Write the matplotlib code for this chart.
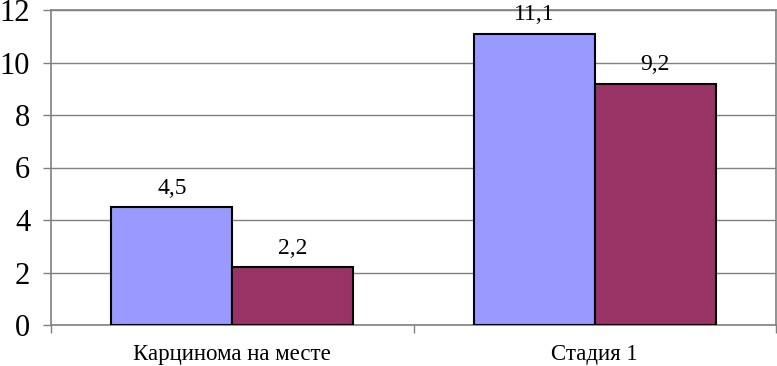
# Столбчатая диаграмма: карцинома на месте и стадия 1
import numpy as np
import matplotlib.pyplot as plt

plt.rcParams['font.family'] = ['Liberation Serif', 'DejaVu Serif']

categories = ['Карцинома на месте', 'Стадия 1']
series_a = [4.5, 11.1]
series_b = [2.2, 9.2]
yticks = [0, 2, 4, 6, 8, 10, 12]

W, H = 777, 366
fig = plt.figure(figsize=(W / 100, H / 100), dpi=100)
ax = fig.add_axes([51 / W, (H - 325) / H, (776 - 51) / W, (325 - 10) / H])

x = np.arange(len(categories))
ancho = 1 / 3
barras_a = ax.bar(x - ancho / 2, series_a, ancho, color='#9999FF', edgecolor='black', linewidth=1.5, zorder=3)
barras_b = ax.bar(x + ancho / 2, series_b, ancho, color='#993366', edgecolor='black', linewidth=1.5, zorder=3)

for barras in (barras_a, barras_b):
    for b in barras:
        v = b.get_height()
        ax.annotate(('%.1f' % v).replace('.', ','), (b.get_x() + b.get_width() / 2, v),
                    xytext=(0, 6), textcoords='offset points', ha='center', va='bottom',
                    fontsize=17, zorder=4)

ax.set_xlim(-0.5, 1.5)
ax.set_ylim(0, 12)
ax.set_yticks(yticks)
ax.set_yticklabels([str(t) for t in yticks], fontsize=22)
ax.tick_params(axis='y', length=6, width=1, color='#808080', pad=9)
ax.yaxis.grid(True, color='#808080', linewidth=1, zorder=0)

ax.set_xticks([-0.5, 0.5, 1.5])
ax.set_xticklabels([])
ax.set_xticks(x, minor=True)
ax.set_xticklabels(categories, minor=True, fontsize=16.5)
ax.tick_params(axis='x', which='major', length=6, width=1, color='#808080')
ax.tick_params(axis='x', which='minor', length=0, pad=14)

for s in ax.spines.values():
    s.set_color('#808080')
    s.set_linewidth(1.2)

fig.savefig('out.png', dpi=100)
